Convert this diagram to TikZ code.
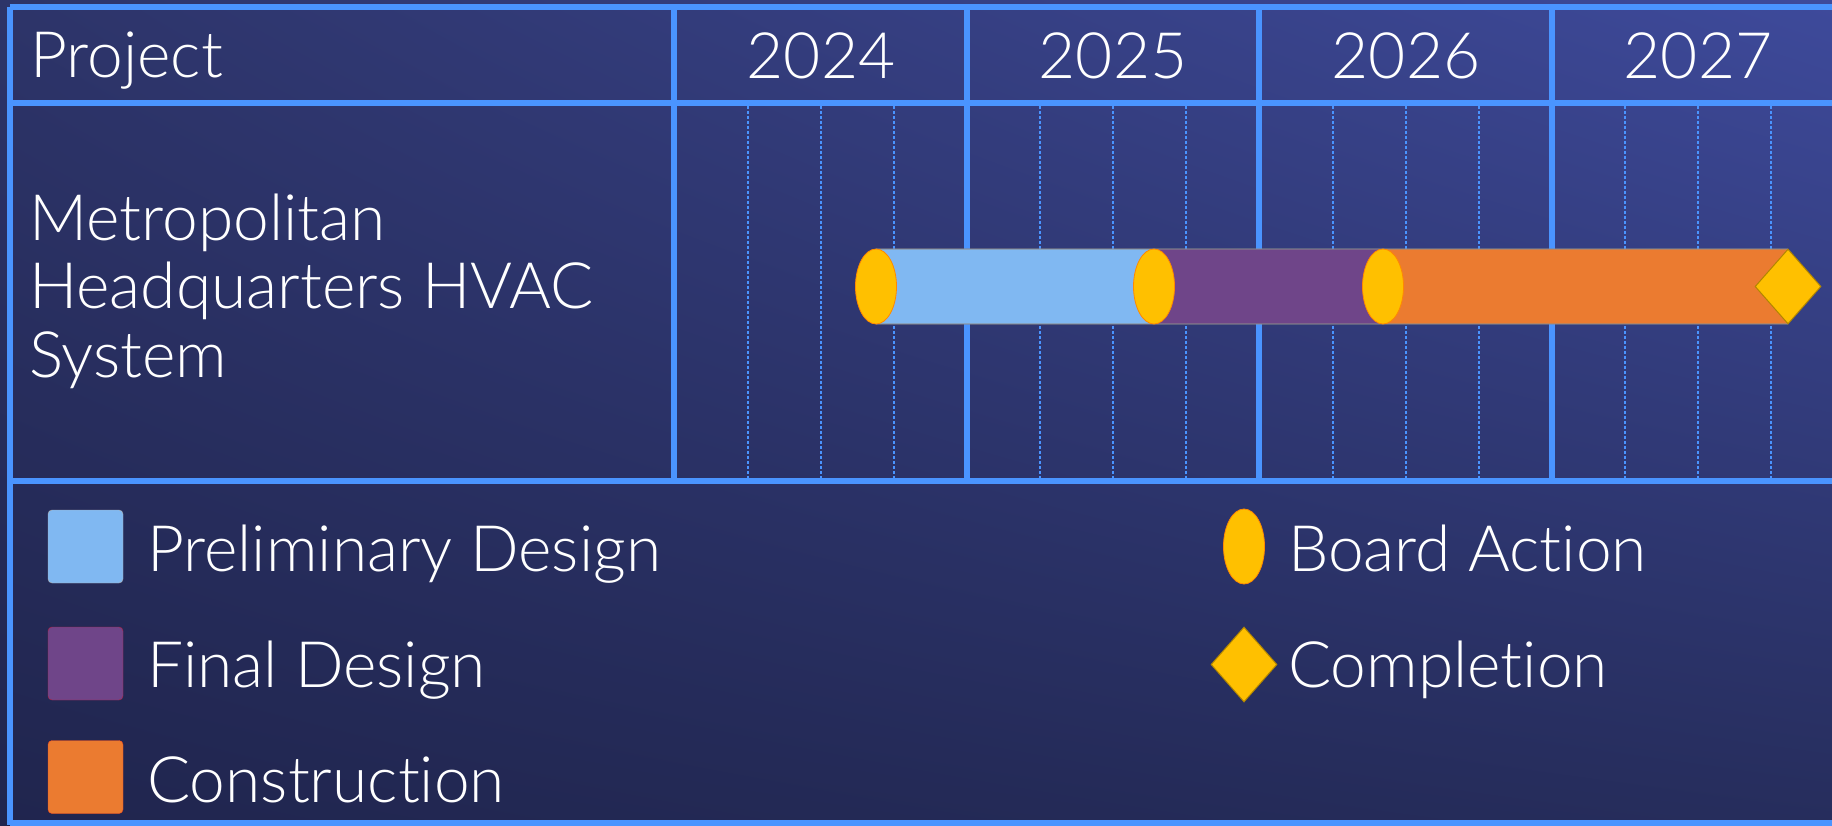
\documentclass[tikz,border=0pt]{standalone}
\usepackage{fontspec}
\setmainfont{Lato}[UprightFont=* Light,Ligatures=NoCommon]
\usetikzlibrary{shapes.geometric,shadings}

\definecolor{gridblue}{RGB}{74,148,255}
\definecolor{prelimblue}{RGB}{128,184,242}
\definecolor{finalpurple}{RGB}{111,69,137}
\definecolor{constrorange}{RGB}{235,123,48}
\definecolor{boardgold}{RGB}{255,192,0}
\definecolor{bgUL}{RGB}{45,52,105}
\definecolor{bgUR}{RGB}{62,74,155}
\definecolor{bgLL}{RGB}{32,37,78}
\definecolor{bgLR}{RGB}{38,45,92}

\begin{document}
\begin{tikzpicture}[x=1pt,y=-1pt,
  lbl/.style={text=white,font=\fontsize{64}{68}\selectfont,inner sep=0pt},
  gridline/.style={gridblue,line width=6pt},
  qtrline/.style={gridblue,line width=2.5pt,dash pattern=on 3pt off 2pt},
  phase/.style={draw=black!45,draw opacity=0.5,line width=1.5pt},
  boardmark/.style={ellipse,fill=boardgold,draw=orange!85!boardgold,line width=0.8pt,
    minimum width=41pt,minimum height=75pt,inner sep=0pt},
  donemark/.style={diamond,fill=boardgold,draw=boardgold!70!black,line width=1pt,
    minimum width=66pt,minimum height=75pt,inner sep=0pt},
  keybox/.style={rounded corners=4pt,minimum width=75pt,minimum height=73pt,inner sep=0pt}]
\useasboundingbox (0,0) rectangle (1832,825);
\clip (0,0) rectangle (1832,825);
\shade[upper left=bgUL,upper right=bgUR,lower left=bgLL,lower right=bgLR] (0,0) rectangle (1832,825);

% table frame
\draw[gridline] (10,7) -- (1840,7) (10,103) -- (1840,103) (10,481) -- (1840,481) (10,823) -- (1840,823);
\draw[gridline] (10,7) -- (10,825) (674,7) -- (674,481) (967,7) -- (967,481) (1259,7) -- (1259,481) (1552,7) -- (1552,481);
\draw[qtrline] (748,106) -- (748,478) (821,106) -- (821,478) (894,106) -- (894,478)
  (1040,106) -- (1040,478) (1113,106) -- (1113,478) (1186,106) -- (1186,478)
  (1333,106) -- (1333,478) (1406,106) -- (1406,478) (1479,106) -- (1479,478)
  (1625,106) -- (1625,478) (1698,106) -- (1698,478) (1771,106) -- (1771,478);

% header
\node[lbl,anchor=base west] (proj) at (30,77) {Project};
\node[lbl,anchor=base] (y24) at (821,78) {2024};
\node[lbl,anchor=base] (y25) at (1113,78) {2025};
\node[lbl,anchor=base] (y26) at (1406,78) {2026};
\node[lbl,anchor=base] (y27) at (1698,78) {2027};

% project name
\node[lbl,anchor=base west] (name1) at (29,240) {Metropolitan};
\node[lbl,anchor=base west] (name2) at (29,308) {Headquarters HVAC};
\node[lbl,anchor=base west] (name3) at (29,377) {System};

% phases
\fill[prelimblue] (876,249) rectangle (1154,324);
\fill[finalpurple] (1154,249) rectangle (1383,324);
\fill[constrorange] (1383,249) rectangle (1788,324);
\draw[phase] (876,249) -- (1788,249) (876,324) -- (1788,324);
\node[boardmark] (ba1) at (876,286.5) {};
\node[boardmark] (ba2) at (1154,286.5) {};
\node[boardmark] (ba3) at (1383,286.5) {};
\node[donemark] (done) at (1788,286.5) {};

% legend
\node[keybox,fill=prelimblue,draw=black!30] (kPre) at (85.5,546.5) {};
\node[keybox,fill=finalpurple,draw=red!50!finalpurple] (kFin) at (85.5,663.5) {};
\node[keybox,fill=constrorange,draw=red!40!constrorange] (kCon) at (85.5,777) {};
\node[lbl,anchor=base west] (tPre) at (147,571) {Preliminary Design};
\node[lbl,anchor=base west] (tFin) at (147,687) {Final Design};
\node[lbl,anchor=base west] (tCon) at (147,802) {Construction};
\node[boardmark] (kBoard) at (1244,546.5) {};
\node[donemark] (kDone) at (1244,664.5) {};
\node[lbl,anchor=base west] (tBoard) at (1288,571) {Board Action};
\node[lbl,anchor=base west] (tDone) at (1288,687) {Completion};
\end{tikzpicture}
\end{document}
